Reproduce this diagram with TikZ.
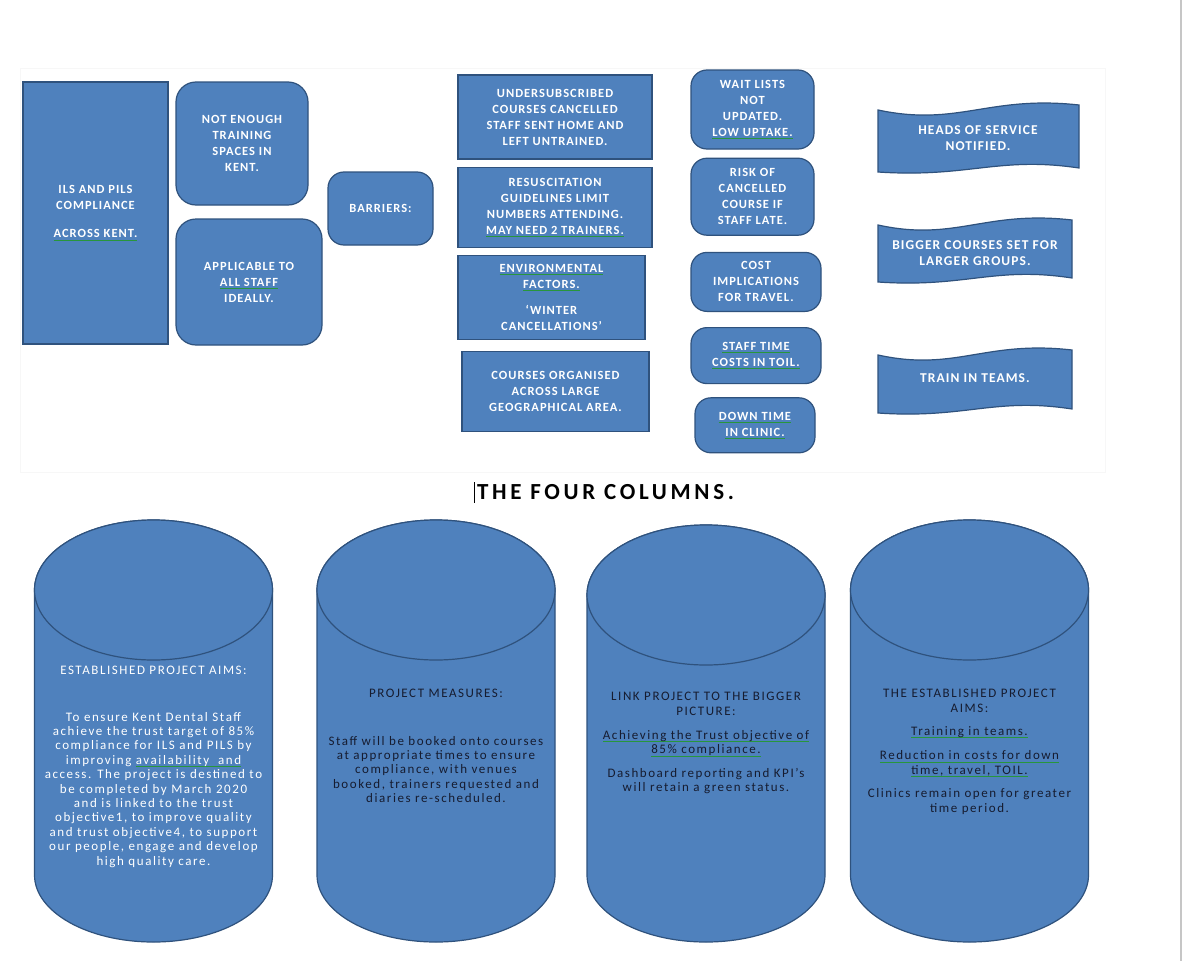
\documentclass[tikz,border=0pt]{standalone}
\usepackage{fontspec}
\setmainfont{Carlito}
\newfontfamily\boxfont{Carlito}[LetterSpace=8]
\newfontfamily\drumfamily{Carlito}[LetterSpace=12]
\newfontfamily\titlefamily{Carlito}[LetterSpace=16]
\usetikzlibrary{positioning}

\definecolor{boxfill}{RGB}{79,129,189}
\definecolor{boxline}{RGB}{47,82,125}
\definecolor{spellgreen}{RGB}{40,150,60}
\definecolor{inkdark}{RGB}{22,28,48}

\newcommand{\capsfont}{\boxfont\bfseries\fontsize{12.5}{16}\selectfont}
\newcommand{\bannerfont}{\boxfont\bfseries\fontsize{13.5}{16}\selectfont}
\newcommand{\drumfont}{\drumfamily\fontsize{13}{14.4}\selectfont}
\newcommand{\titlefont}{\titlefamily\bfseries\fontsize{23}{26}\selectfont}
\newsavebox{\spellbox}
\newcommand{\spellmark}[1]{\sbox{\spellbox}{#1}\rlap{\textcolor{spellgreen}{\rule[-2.6pt]{\wd\spellbox}{0.7pt}}}\usebox{\spellbox}}

% column drum: centre x, top y
\newcommand{\drumshape}[2]{%
  \draw[drum] ({#1-119},{-#2-70}) -- ({#1-119},-875)
    arc[start angle=180, end angle=360, x radius=119pt, y radius=67pt]
    -- ({#1+119},{-#2-70})
    arc[start angle=0, end angle=180, x radius=119pt, y radius=70pt] -- cycle;
  \draw[drum] (#1,{-#2-70}) ellipse[x radius=119pt, y radius=70pt];
}
% wave banner: x0, y0, x1, y1
\newcommand{\bannerwave}[4]{%
  \draw[drum] (#1,{-#2-5}) .. controls ({#1+0.4*(#3-#1)},{-#2-22}) and ({#1+0.55*(#3-#1)},{-#2+10}) .. (#3,-#2)
    -- (#3,{-#4+4}) .. controls ({#1+0.6*(#3-#1)},{-#4+16}) and ({#1+0.45*(#3-#1)},{-#4-6}) .. (#1,-#4) -- cycle;
}

\begin{document}
\begin{tikzpicture}[
    x=1pt, y=1pt,
    panel/.style={rectangle, draw=boxline, fill=boxfill, line width=1.2pt, align=center, text=white, inner sep=1pt, font=\capsfont},
    roundpanel/.style={panel, rounded corners=16pt},
    bannertext/.style={align=center, text=white, inner sep=0pt, font=\bannerfont},
    drum/.style={draw=boxline, fill=boxfill, line width=1.2pt},
    drumtext/.style={align=center, inner sep=0pt, anchor=north, font=\drumfont},
    heading/.style={inner sep=0pt, font=\titlefont}
  ]
  \useasboundingbox (0,0) rectangle (1184,-961);
  \fill[white] (0,0) rectangle (1184,-961);
  \draw[gray!6] (20,-68) rectangle (1105,-472);
  \draw[gray!45, line width=2pt] (1181,0) -- (1181,-961);

  % Barriers
  \node[panel, minimum width=145pt, minimum height=262pt] (compliance) at (95.5,-213) {ILS AND PILS\\COMPLIANCE\\[12pt]\spellmark{ACROSS KENT.}};
  \node[roundpanel, rounded corners=20pt, minimum width=132pt, minimum height=123pt] (spaces) at (242,-143.5) {NOT ENOUGH\\TRAINING\\SPACES IN\\KENT.};
  \node[roundpanel, rounded corners=20pt, minimum width=146pt, minimum height=126pt] (allstaff) at (249,-282) {APPLICABLE TO\\\spellmark{ALL STAFF}\\IDEALLY.};
  \node[roundpanel, minimum width=105pt, minimum height=73pt] (barriers) at (380.5,-208.5) {BARRIERS:};

  \node[panel, minimum width=194pt, minimum height=84pt] (cancelled) at (555,-117) {UNDERSUBSCRIBED\\COURSES CANCELLED\\STAFF SENT HOME AND\\LEFT UNTRAINED.};
  \node[panel, minimum width=194pt, minimum height=80pt, below=7pt of cancelled] (guidelines) {RESUSCITATION\\GUIDELINES LIMIT\\NUMBERS ATTENDING.\\\spellmark{MAY NEED 2 TRAINERS.}};
  \node[panel, minimum width=187pt, minimum height=84pt, below=7pt of guidelines, xshift=-3.5pt] (weather) {\spellmark{ENVIRONMENTAL}\\\spellmark{FACTORS.}\\[10pt]‘WINTER\\CANCELLATIONS’};
  \node[panel, minimum width=187pt, minimum height=80pt, below=11pt of weather, xshift=4pt] (geography) {COURSES ORGANISED\\ACROSS LARGE\\GEOGRAPHICAL AREA.};

  \node[roundpanel, minimum width=123pt, minimum height=79pt] (waitlists) at (752.5,-109.5) {WAIT LISTS\\NOT\\UPDATED.\\\spellmark{LOW UPTAKE.}};
  \node[roundpanel, minimum width=123pt, minimum height=77pt, below=8pt of waitlists] (latestaff) {RISK OF\\CANCELLED\\COURSE IF\\STAFF LATE.};
  \node[roundpanel, minimum width=130pt, minimum height=59pt, below=16pt of latestaff, xshift=3.5pt] (travel) {COST\\IMPLICATIONS\\FOR TRAVEL.};
  \node[roundpanel, minimum width=130pt, minimum height=56pt, below=15pt of travel] (toil) {\spellmark{STAFF TIME}\\\spellmark{COSTS IN TOIL.}};
  \node[roundpanel, minimum width=120pt, minimum height=55pt, below=13pt of toil, xshift=-1pt] (downtime) {\spellmark{DOWN TIME}\\\spellmark{IN CLINIC.}};

  % Actions
  \bannerwave{878}{105}{1079}{172}
  \node[bannertext] (notified) at (978,-138) {HEADS OF SERVICE\\NOTIFIED.};
  \bannerwave{878}{220}{1072}{282}
  \node[bannertext] (biggercourses) at (975,-253) {BIGGER COURSES SET FOR\\LARGER GROUPS.};
  \bannerwave{878}{350}{1072}{413}
  \node[bannertext] (teams) at (975,-378) {TRAIN IN TEAMS.};

  % Four columns
  \node[heading] (title) at (605.5,-492) {THE FOUR COLUMNS.};
  \draw[line width=1pt] ([xshift=-2.5pt,yshift=2pt]title.north west) -- ([xshift=-2.5pt,yshift=-3pt]title.south west);

  \drumshape{153.5}{520}
  \drumshape{436}{520}
  \drumshape{706}{525}
  \drumshape{969.5}{520}

  \node[drumtext, text=white] (aims) at (153.5,-666) {ESTABLISHED PROJECT AIMS:\\[32pt]
    To ensure Kent Dental Staff\\achieve the trust target of 85\%\\compliance for ILS and PILS by\\improving \spellmark{availability\ \ and}\\access. The project is destined to\\be completed by March 2020\\and is linked to the trust\\objective1, to improve quality\\and trust objective4, to support\\our people, engage and develop\\high quality care.};
  \node[drumtext, text=inkdark] (measures) at (436,-689) {PROJECT MEASURES:\\[33pt]
    Staff will be booked onto courses\\at appropriate times to ensure\\compliance, with venues\\booked, trainers requested and\\diaries re-scheduled.};
  \node[drumtext, text=inkdark] (bigpicture) at (706,-692) {LINK PROJECT TO THE BIGGER\\PICTURE:\\[10pt]
    \spellmark{Achieving the Trust objective of}\\\spellmark{85\% compliance.}\\[9pt]
    Dashboard reporting and KPI’s\\will retain a green status.};
  \node[drumtext, text=inkdark] (projectaims) at (969.5,-689) {THE ESTABLISHED PROJECT\\AIMS:\\[9pt]
    \spellmark{Training in teams.}\\[10pt]
    \spellmark{Reduction in costs for down}\\\spellmark{time, travel, TOIL.}\\[9pt]
    Clinics remain open for greater\\time period.};
\end{tikzpicture}
\end{document}
